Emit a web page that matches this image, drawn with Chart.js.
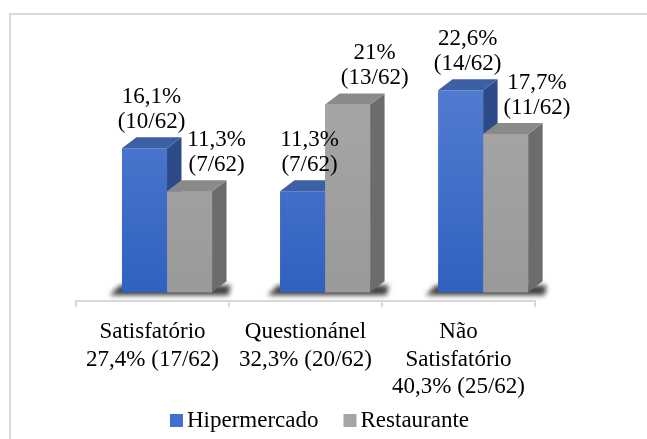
<!DOCTYPE html>
<html lang="pt-BR">
<head>
<meta charset="UTF-8">
<title>Satisfação - Hipermercado x Restaurante</title>
<script src="https://cdn.jsdelivr.net/npm/chart.js@4"></script>
<style>
  html, body { margin: 0; padding: 0; background: #fff; overflow: hidden; }
  .frame { position: absolute; left: 9px; top: 13px; width: 660px; height: 460px; border: 2px solid #d9d9d9; box-sizing: border-box; }
  canvas { position: absolute; left: 0; top: 0; }
</style>
</head>
<body>
<div class="frame"></div>
<canvas id="chart" width="647" height="439"></canvas>
<script>
// Dados
const categories = [
  ["Satisfatório", "27,4% (17/62)"],
  ["Questionánel", "32,3% (20/62)"],
  ["Não", "Satisfatório", "40,3% (25/62)"]
];
const seriesNames = ["Hipermercado", "Restaurante"];
const hiperValues = [16.1, 11.3, 22.6];
const restValues = [11.3, 21, 17.7];
const hiperCounts = ["(10/62)", "(7/62)", "(14/62)"];
const restCounts = ["(7/62)", "(13/62)", "(11/62)"];

const FONT = '"Liberation Serif", "Times New Roman", serif';
const FONT_SIZE = 23;

// Efeito 3D: profundidade e leve perspectiva do "chão" das barras
const DEPTH_X = 14;
const DEPTH_Y = -11;
const STRETCH = 1.033;
const SHIFT = 12;

// Cores: frente (topo -> base), face superior, face lateral, legenda
const COLORS = [
  { frontTop: '#5d85d5', frontBottom: '#2f60c0', top: '#3d5fa6', side: '#2c4a88', legend: '#3f6fd0' },
  { frontTop: '#ababab', frontBottom: '#999999', top: '#8a8a8a', side: '#6c6c6c', legend: '#a5a5a5' }
];

function formatPct(v) {
  return String(v).replace('.', ',') + '%';
}

function frontFill(index) {
  return (context) => {
    const { chart } = context;
    const area = chart.chartArea;
    if (!area) return COLORS[index].frontBottom;
    const g = chart.ctx.createLinearGradient(0, area.top, 0, area.bottom);
    g.addColorStop(0, COLORS[index].frontTop);
    g.addColorStop(1, COLORS[index].frontBottom);
    return g;
  };
}

function toScreenX(chart, x) {
  const left = chart.chartArea.left;
  return left + (x - left) * STRETCH + SHIFT;
}

const bars3d = {
  id: 'bars3d',
  beforeDatasetsDraw(chart) {
    const ctx = chart.ctx;
    const left = chart.chartArea.left;
    ctx.save();
    ctx.translate(left + SHIFT, 0);
    ctx.scale(STRETCH, 1);
    ctx.translate(-left, 0);

    // sombra no chão, embaixo de cada par de barras
    const m0 = chart.getDatasetMeta(0);
    const m1 = chart.getDatasetMeta(1);
    m0.data.forEach((el, i) => {
      const a = el.getProps(['x', 'base', 'width'], true);
      const b = m1.data[i].getProps(['x', 'width'], true);
      const l = a.x - a.width / 2;
      const r = b.x + b.width / 2 + DEPTH_X;
      ctx.save();
      ctx.filter = 'blur(2.5px)';
      ctx.fillStyle = 'rgba(30,30,30,0.85)';
      ctx.beginPath();
      ctx.moveTo(l - 12, a.base + 3);
      ctx.lineTo(l - 2, a.base - 7);
      ctx.lineTo(r + 4, a.base - 7);
      ctx.lineTo(r + 2, a.base + 3);
      ctx.closePath();
      ctx.fill();
      ctx.restore();
    });
  },
  afterDatasetsDraw(chart) {
    const ctx = chart.ctx;

    // faces laterais e superiores, série por série, da esquerda para a direita;
    // a frente da segunda série é repintada por cima da lateral da primeira
    chart.data.datasets.forEach((ds, d) => {
      const c = COLORS[d];
      chart.getDatasetMeta(d).data.forEach(el => {
        if (d > 0) el.draw(ctx);
        const { x, y, base, width } = el.getProps(['x', 'y', 'base', 'width'], true);
        const l = x - width / 2;
        const r = x + width / 2;
        ctx.fillStyle = c.side;
        ctx.beginPath();
        ctx.moveTo(r, y);
        ctx.lineTo(r + DEPTH_X, y + DEPTH_Y);
        ctx.lineTo(r + DEPTH_X, base + DEPTH_Y);
        ctx.lineTo(r, base);
        ctx.closePath();
        ctx.fill();
        ctx.fillStyle = c.top;
        ctx.beginPath();
        ctx.moveTo(l, y);
        ctx.lineTo(l + DEPTH_X, y + DEPTH_Y);
        ctx.lineTo(r + DEPTH_X, y + DEPTH_Y);
        ctx.lineTo(r, y);
        ctx.closePath();
        ctx.fill();
      });
    });
    ctx.restore();

    // rótulos de valor (duas linhas) acima de cada barra
    ctx.save();
    ctx.font = FONT_SIZE + 'px ' + FONT;
    ctx.fillStyle = '#000';
    ctx.textAlign = 'center';
    ctx.textBaseline = 'alphabetic';
    const counts = [hiperCounts, restCounts];
    const boxes = [];
    chart.data.datasets.forEach((ds, d) => {
      const meta = chart.getDatasetMeta(d);
      meta.data.forEach((el, i) => {
        const lines = [formatPct(ds.data[i]), counts[d][i]];
        const w = Math.max(...lines.map(t => ctx.measureText(t).width));
        let cx = toScreenX(chart, el.x) + DEPTH_X / 2;
        const base2 = el.y - 20;
        const box = { l: cx - w / 2, r: cx + w / 2, t: base2 - 25 - 17, b: base2 + 5 };
        // se colidir com o rótulo da outra série, empurra para a direita
        const prev = boxes[i];
        if (prev && box.t < prev.b && box.l < prev.r) {
          const dx = prev.r + 2 - box.l;
          cx += dx; box.l += dx; box.r += dx;
        }
        if (!prev) boxes[i] = box;
        ctx.fillText(lines[0], cx, base2 - 25);
        ctx.fillText(lines[1], cx, base2);
      });
    });
    ctx.restore();
  },
  afterDraw(chart) {
    // legenda
    const ctx = chart.ctx;
    ctx.save();
    ctx.font = FONT_SIZE + 'px ' + FONT;
    ctx.textBaseline = 'alphabetic';
    ctx.textAlign = 'left';
    const box = 13, gap = 4, itemGap = 25;
    const widths = chart.data.datasets.map(ds => box + gap + ctx.measureText(ds.label).width);
    const total = widths.reduce((s, w) => s + w, 0) + itemGap * (widths.length - 1);
    let x = chart.width / 2 - 4 - total / 2;
    const baseline = 427;
    chart.data.datasets.forEach((ds, d) => {
      ctx.fillStyle = COLORS[d].legend;
      ctx.fillRect(x, baseline - box, box, box);
      ctx.fillStyle = '#000';
      ctx.fillText(ds.label, x + box + gap, baseline);
      x += widths[d] + itemGap;
    });
    ctx.restore();
  }
};

new Chart(document.getElementById('chart'), {
  type: 'bar',
  data: {
    labels: categories,
    datasets: [
      { label: seriesNames[0], data: hiperValues, backgroundColor: frontFill(0) },
      { label: seriesNames[1], data: restValues, backgroundColor: frontFill(1) }
    ]
  },
  options: {
    responsive: false,
    devicePixelRatio: 1,
    animation: false,
    layout: { padding: { left: 76, right: 112, top: 15, bottom: 27 } },
    datasets: { bar: { categoryPercentage: 0.57, barPercentage: 1 } },
    scales: {
      x: {
        grid: { offset: true, drawOnChartArea: false, drawTicks: true, tickLength: 6, color: '#d9d9d9', lineWidth: 2 },
        border: { display: true, color: '#d9d9d9', width: 2 },
        ticks: { color: '#000', padding: 11, font: { family: FONT, size: FONT_SIZE, lineHeight: 1.2 }, maxRotation: 0 }
      },
      y: { display: false, min: -1, max: 31 }
    },
    plugins: {
      legend: { display: false },
      tooltip: { enabled: false }
    }
  },
  plugins: [bars3d]
});
</script>
</body>
</html>
